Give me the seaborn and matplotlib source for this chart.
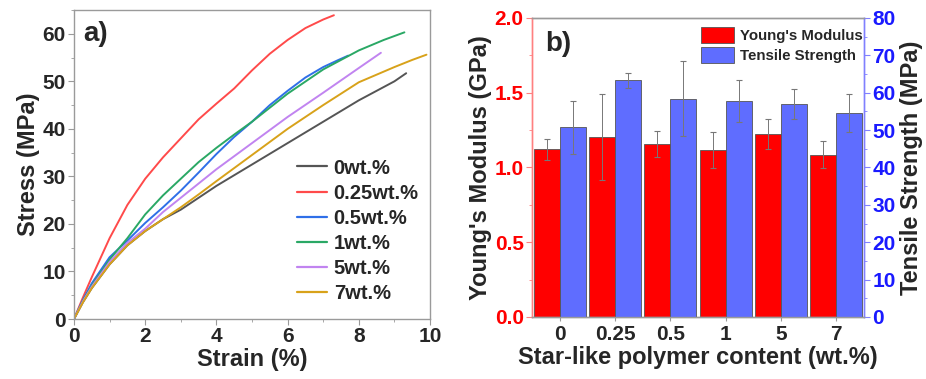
import numpy as np
import pandas as pd
import matplotlib
matplotlib.use("Agg")
import matplotlib.pyplot as plt
from matplotlib.ticker import MultipleLocator
from matplotlib.lines import Line2D
from matplotlib.patches import Patch
import seaborn as sns

# ---------------- data: panel a (stress-strain curves) ----------------
strain_0 = [0, 0.25, 0.5, 1, 1.5, 2, 2.5, 3, 3.5, 4, 5, 6, 7, 8, 8.5, 9, 9.33]
stress_0 = [0, 3.5, 6.5, 11.5, 15.5, 18.5, 21, 23, 25.5, 28, 32.5, 37, 41.5, 46, 48, 50, 51.7]

strain_025 = [0, 0.25, 0.5, 1, 1.5, 2, 2.5, 3, 3.5, 4, 4.5, 5, 5.5, 6, 6.5, 7, 7.3]
stress_025 = [0, 4.5, 8.8, 17, 24, 29.5, 34, 38, 42, 45.3, 48.5, 52.3, 55.8, 58.7, 61.2, 63, 63.9]

strain_05 = [0, 0.25, 0.5, 1, 1.5, 2, 2.5, 3, 3.5, 4, 4.5, 5, 5.5, 6, 6.5, 7, 7.4, 7.7]
stress_05 = [0, 4, 7.5, 13, 16.5, 20.2, 23.5, 27, 30.8, 34.7, 38.3, 41.5, 45, 48, 50.8, 53, 54.4, 55.4]

strain_1 = [0, 0.25, 0.5, 1, 1.5, 2, 2.5, 3, 3.5, 4, 4.5, 5, 6, 7, 8, 8.7, 9.28]
stress_1 = [0, 3.8, 7, 12.5, 17, 22, 26, 29.5, 33, 36, 38.8, 41.5, 47.4, 52.5, 56.5, 58.7, 60.3]

strain_5 = [0, 0.25, 0.5, 1, 1.5, 2, 2.5, 3, 3.5, 4, 5, 6, 7, 8, 8.62]
stress_5 = [0, 3.7, 6.8, 12, 16, 19, 22.5, 25.5, 28.5, 31.5, 37, 42.5, 47.6, 52.8, 56]

strain_7 = [0, 0.25, 0.5, 1, 1.5, 2, 2.5, 3, 3.5, 4, 5, 6, 7, 8, 9, 9.5, 9.9]
stress_7 = [0, 3.5, 6.5, 11.5, 15.5, 18.5, 21, 23.5, 26.2, 29, 34.5, 40, 45, 49.8, 53, 54.5, 55.6]

curve_labels = ["0wt.%", "0.25wt.%", "0.5wt.%", "1wt.%", "5wt.%", "7wt.%"]
curve_colors = ["#555555", "#ff4a4a", "#2f6fe8", "#2aa865", "#c184f0", "#d8a21a"]

# ---------------- data: panel b (bars) ----------------
contents = ["0", "0.25", "0.5", "1", "5", "7"]
modulus = [1.122, 1.204, 1.158, 1.117, 1.222, 1.086]
modulus_err = [0.07, 0.29, 0.087, 0.123, 0.10, 0.09]
strength = [50.7, 63.3, 58.4, 57.8, 57.0, 54.6]
strength_err = [7.0, 2.0, 10.0, 5.6, 4.0, 5.0]

# ---------------- style ----------------
sns.set_style("ticks")
plt.rcParams["font.family"] = ["Liberation Sans", "DejaVu Sans"]
plt.rcParams["font.weight"] = "bold"
plt.rcParams["axes.labelweight"] = "bold"

fig = plt.figure(figsize=(9.26, 3.79), dpi=100)

# ================= panel a =================
axa = fig.add_axes([0.0799, 0.1583, 0.3845, 0.8153])
rows = []
for lab, xs, ys in zip(curve_labels,
                       [strain_0, strain_025, strain_05, strain_1, strain_5, strain_7],
                       [stress_0, stress_025, stress_05, stress_1, stress_5, stress_7]):
    for x, y in zip(xs, ys):
        rows.append({"strain": x, "stress": y, "sample": lab})
df_a = pd.DataFrame(rows)
pal_a = dict(zip(curve_labels, curve_colors))
sns.lineplot(data=df_a, x="strain", y="stress", hue="sample", hue_order=curve_labels,
             palette=pal_a, sort=False, estimator=None, linewidth=1.4, ax=axa, legend=False)
for ln in axa.get_lines():
    ln.set_solid_joinstyle("round")
axa.set_xlim(0, 10)
axa.set_ylim(0, 65)
axa.xaxis.set_major_locator(MultipleLocator(2))
axa.xaxis.set_minor_locator(MultipleLocator(1))
axa.yaxis.set_major_locator(MultipleLocator(10))
axa.yaxis.set_minor_locator(MultipleLocator(5))
axa.set_xlabel("Strain (%)", fontsize=17, fontweight="bold", labelpad=1)
axa.set_ylabel("Stress (MPa)", fontsize=17, fontweight="bold", labelpad=2)
for s in axa.spines.values():
    s.set_visible(True)
    s.set_color("#9a9a9a")
    s.set_linewidth(1.0)
axa.tick_params(axis="both", which="major", labelsize=15, length=4, color="#9a9a9a", pad=2)
axa.tick_params(axis="both", which="minor", length=2, color="#9a9a9a")
for t in axa.get_xticklabels() + axa.get_yticklabels():
    t.set_fontweight("bold")
axa.text(0.025, 0.965, "a)", transform=axa.transAxes, fontsize=20, fontweight="bold",
         va="top", ha="left")
handles_a = [Line2D([0], [0], color=c, lw=1.6) for c in curve_colors]
axa.legend(handles_a, curve_labels, loc="upper left", bbox_to_anchor=(0.588, 0.565),
           frameon=False, prop={"size": 14.5, "weight": "bold"}, handlelength=1.45,
           handletextpad=0.35, labelspacing=0.3, borderpad=0.2)

# ================= panel b =================
axb = fig.add_axes([0.5745, 0.1636, 0.3585, 0.789])
axb2 = axb.twinx()
hue_order = ["Young's Modulus", "Tensile Strength"]
pal_b = {"Young's Modulus": "#ff0000", "Tensile Strength": "#5f6dff"}
df_mod = pd.DataFrame({"content": contents, "value": modulus, "prop": "Young's Modulus"})
df_str = pd.DataFrame({"content": contents, "value": strength, "prop": "Tensile Strength"})

sns.barplot(data=df_mod, x="content", y="value", hue="prop", hue_order=hue_order,
            order=contents, palette=pal_b, dodge=True, width=0.94, errorbar=None,
            saturation=1, edgecolor="#555555", linewidth=0.6, legend=False, ax=axb)
sns.barplot(data=df_str, x="content", y="value", hue="prop", hue_order=hue_order,
            order=contents, palette=pal_b, dodge=True, width=0.94, errorbar=None,
            saturation=1, edgecolor="#555555", linewidth=0.6, legend=False, ax=axb2)

def bar_centers(ax):
    ps = sorted(ax.patches, key=lambda p: p.get_x())
    return [p.get_x() + p.get_width() / 2 for p in ps]

axb.errorbar(bar_centers(axb), modulus, yerr=modulus_err, fmt="none",
             ecolor="#777777", elinewidth=0.7, capsize=2.5, capthick=0.8)
axb2.errorbar(bar_centers(axb2), strength, yerr=strength_err, fmt="none",
              ecolor="#777777", elinewidth=0.7, capsize=2.5, capthick=0.8)

axb.set_xlim(-0.5, 5.5)
axb.set_ylim(0, 2.0)
axb2.set_ylim(0, 80)
axb.yaxis.set_major_locator(MultipleLocator(0.5))
axb.yaxis.set_minor_locator(MultipleLocator(0.25))
axb2.yaxis.set_major_locator(MultipleLocator(10))
axb2.yaxis.set_minor_locator(MultipleLocator(5))
axb.yaxis.set_major_formatter(matplotlib.ticker.FormatStrFormatter("%.1f"))

axb.set_xlabel("Star-like polymer content (wt.%)", fontsize=17, fontweight="bold", labelpad=1)
axb.set_ylabel("Young's Modulus (GPa)", fontsize=17, fontweight="bold", labelpad=2)
axb2.set_ylabel("Tensile Strength (MPa)", fontsize=17, fontweight="bold", labelpad=3)

for ax in (axb, axb2):
    for s in ax.spines.values():
        s.set_visible(True)
        s.set_linewidth(1.0)
    ax.spines["top"].set_color("#9a9a9a")
    ax.spines["bottom"].set_color("#9a9a9a")
    ax.spines["left"].set_color("#ff8080")
    ax.spines["right"].set_color("#8080ff")

axb.tick_params(axis="x", labelsize=15, length=3, color="#9a9a9a", pad=3)
axb.tick_params(axis="y", which="major", labelsize=15, length=4, color="#ff8080",
                labelcolor="#ff0000", pad=2)
axb.tick_params(axis="y", which="minor", length=2, color="#ff8080")
axb2.tick_params(axis="y", which="major", labelsize=15, length=4, color="#8080ff",
                 labelcolor="#1a1aff", pad=2)
axb2.tick_params(axis="y", which="minor", length=2, color="#8080ff")
for t in axb.get_xticklabels() + axb.get_yticklabels() + axb2.get_yticklabels():
    t.set_fontweight("bold")

axb.text(0.04, 0.955, "b)", transform=axb.transAxes, fontsize=20, fontweight="bold",
         va="top", ha="left")
handles_b = [Patch(facecolor=pal_b[h], edgecolor="#555555", linewidth=0.6) for h in hue_order]
axb2.legend(handles_b, hue_order, loc="upper right", bbox_to_anchor=(1.0, 0.975),
            frameon=False, prop={"size": 10.8, "weight": "bold"}, handlelength=2.2,
            handleheight=1.3, handletextpad=0.4, labelspacing=0.25, borderpad=0.1,
            borderaxespad=0.0)

fig.savefig("out.png", dpi=100)
